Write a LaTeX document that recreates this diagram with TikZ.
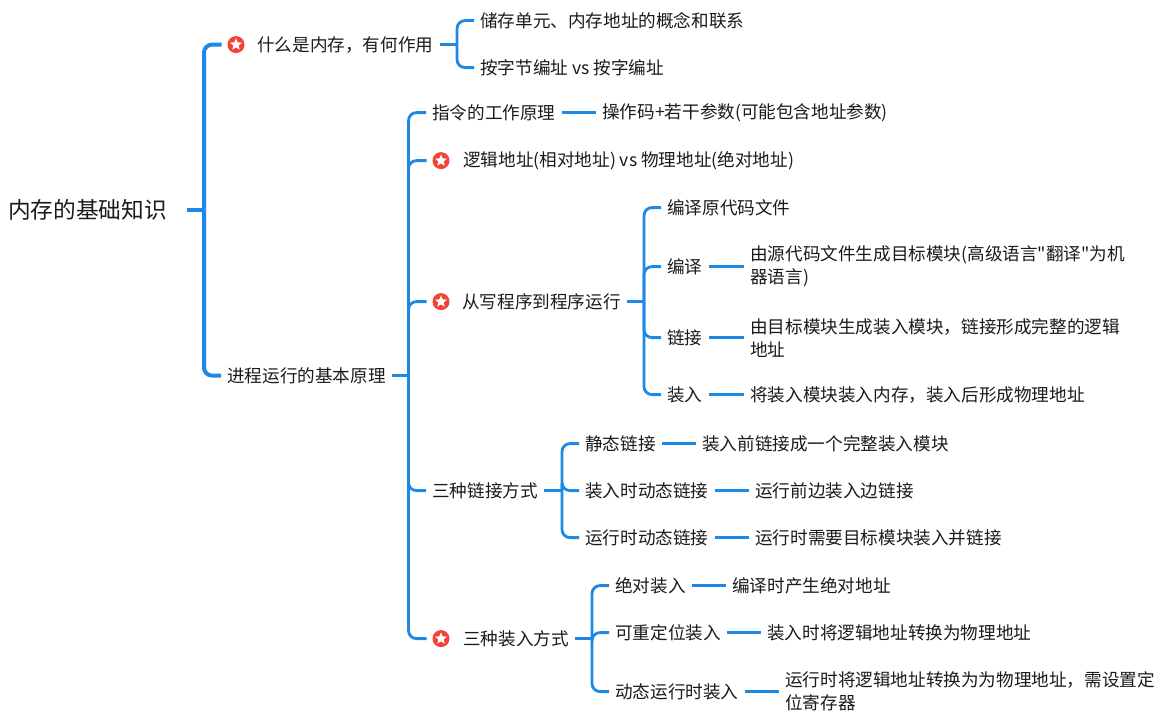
\documentclass[tikz,border=0pt]{standalone}
\usepackage{fontspec}
\newfontfamily\zhfont{Noto Sans CJK SC}
\usepackage{xcolor}
\usetikzlibrary{shapes.geometric}
\definecolor{twigblue}{HTML}{1E88E5}
\definecolor{markred}{HTML}{F44336}
\definecolor{inktext}{HTML}{1A1A1A}
\tikzset{
  topic/.style={anchor=west,inner xsep=4.5pt,inner ysep=0pt,align=left,text=inktext,font=\zhfont\fontsize{13.2}{17.25}\selectfont},
  roottopic/.style={topic,inner xsep=15pt,font=\zhfont\fontsize{17}{20}\selectfont},
  twig/.style={draw=twigblue,line width=2.1pt,rounded corners=6pt},
  trunk/.style={twig,line width=3pt},
  starmark/.style={circle,fill=markred,minimum size=12.75pt,inner sep=0pt,outer sep=4.5pt,
    path picture={\node[star,star points=5,star point ratio=2.3,fill=white,inner sep=0pt,minimum size=9.5pt] at (path picture bounding box.center) {};}}
}
\begin{document}
\begin{tikzpicture}[x=0.75pt,y=-0.75pt]
        \useasboundingbox (0,-0.6) rectangle (1159,720.4);

        % корінь і дві гілки
        \node[roottopic] (root) at (-12,209) {内存的基础知识};
        \node[starmark] (memmark) at (236,44) {};
        \node[topic] (mem) at (251,44) {什么是内存，有何作用};
        \node[topic] (proc) at (221,375) {进程运行的基本原理};

        \node[topic] (unit) at (474,20) {储存单元、内存地址的概念和联系};
        \node[topic] (addr) at (474,67) {按字节编址 vs 按字编址};

        % другий рівень
        \node[topic] (instr) at (426,112) {指令的工作原理};
        \node[topic] (opcode) at (596,112) {操作码+若干参数(可能包含地址参数)};
        \node[starmark] (logicmark) at (441,160) {};
        \node[topic] (logic) at (457,160) {逻辑地址(相对地址) vs 物理地址(绝对地址)};
        \node[starmark] (runmark) at (441,301) {};
        \node[topic] (run) at (456,301) {从写程序到程序运行};
        \node[topic] (linkway) at (426,490) {三种链接方式};
        \node[starmark] (loadmark) at (441,638) {};
        \node[topic] (load) at (457,638) {三种装入方式};

        \node[topic] (edit) at (661,207) {编译原代码文件};
        \node[topic] (compile) at (661,266) {编译};
        \node[topic] (compiletxt) at (744,266) {由源代码文件生成目标模块(高级语言"翻译"为机\\器语言)};
        \node[topic] (link) at (661,337) {链接};
        \node[topic] (linktxt) at (744,337) {由目标模块生成装入模块，链接形成完整的逻辑\\地址};
        \node[topic] (loading) at (661,394) {装入};
        \node[topic] (loadingtxt) at (744,394) {将装入模块装入内存，装入后形成物理地址};

        \node[topic] (static) at (579,443) {静态链接};
        \node[topic] (statictxt) at (696,443) {装入前链接成一个完整装入模块};
        \node[topic] (loadlink) at (579,490) {装入时动态链接};
        \node[topic] (loadlinktxt) at (749,490) {运行前边装入边链接};
        \node[topic] (runlink) at (579,537) {运行时动态链接};
        \node[topic] (runlinktxt) at (749,537) {运行时需要目标模块装入并链接};

        \node[topic] (abs) at (609,585) {绝对装入};
        \node[topic] (abstxt) at (726,585) {编译时产生绝对地址};
        \node[topic] (reloc) at (609,632) {可重定位装入};
        \node[topic] (reloctxt) at (761,632) {装入时将逻辑地址转换为物理地址};
        \node[topic] (dyn) at (609,691) {动态运行时装入};
        \node[topic] (dyntxt) at (779,691) {运行时将逻辑地址转换为为物理地址，需设置定\\位寄存器};

        \coordinate (rootfork) at (204,209);
        \coordinate (memfork) at (457,44);
        \coordinate (procfork) at (408.5,375);
        \coordinate (runfork) at (644,301);
        \coordinate (linkfork) at (562,490);
        \coordinate (loadfork) at (592,638);

        % з'єднання
        \draw[trunk] (root.east) -- (rootfork);
        \foreach \kid in {memmark,proc}
            \draw[trunk] (rootfork) |- (\kid.west);

        \draw[twig] (mem.east) -- (memfork);
        \foreach \kid in {unit,addr}
            \draw[twig] (memfork) |- (\kid.west);

        \draw[twig] (proc.east) -- (procfork);
        \foreach \kid in {instr,logicmark,runmark,linkway,loadmark}
            \draw[twig] (procfork) |- (\kid.west);

        \draw[twig] (run.east) -- (runfork);
        \foreach \kid in {edit,compile,link,loading}
            \draw[twig] (runfork) |- (\kid.west);

        \draw[twig] (linkway.east) -- (linkfork);
        \foreach \kid in {static,loadlink,runlink}
            \draw[twig] (linkfork) |- (\kid.west);

        \draw[twig] (load.east) -- (loadfork);
        \foreach \kid in {abs,reloc,dyn}
            \draw[twig] (loadfork) |- (\kid.west);

        \foreach \from/\to in {instr/opcode,compile/compiletxt,link/linktxt,loading/loadingtxt,
            static/statictxt,loadlink/loadlinktxt,runlink/runlinktxt,abs/abstxt,reloc/reloctxt,dyn/dyntxt}
            \draw[twig] (\from.east) -- (\to.west);
    \end{tikzpicture}
\end{document}
